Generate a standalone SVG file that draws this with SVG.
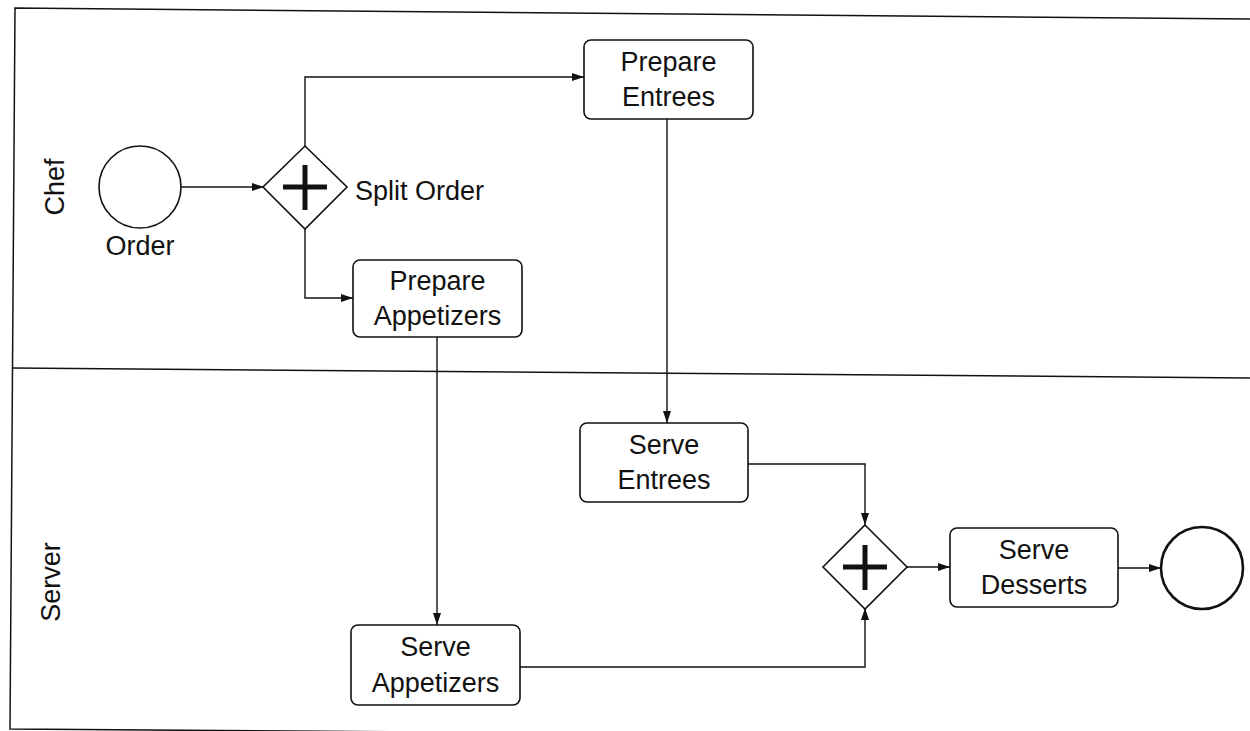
<svg xmlns="http://www.w3.org/2000/svg" width="1250" height="731" viewBox="0 0 1250 731">
<style>
.t{font-family:"Liberation Sans",Arial,sans-serif;font-size:27px;fill:#111}
.box{fill:#fff;stroke:#111;stroke-width:1.6}
.ln{fill:none;stroke:#111;stroke-width:1.5}
.edge{fill:none;stroke:#111;stroke-width:1.4;marker-end:url(#ah)}
.plus{stroke:#111;stroke-width:5;fill:none}
</style>
<defs>
<marker id="ah" viewBox="0 0 12 8" refX="12" refY="4" markerWidth="12" markerHeight="8" markerUnits="userSpaceOnUse" orient="auto">
<path d="M0,0 L12,4 L0,8 Z" fill="#111"/>
</marker>
</defs>
<rect width="1250" height="731" fill="#fff"/>
<g id="pool">
<path class="ln" d="M1250,19 L15,8 L10,729 L1250,738"/>
<path class="ln" d="M13,368 L1250,378"/>
<text class="t" transform="translate(64,187) rotate(-90)" text-anchor="middle">Chef</text>
<text class="t" transform="translate(60,582) rotate(-90)" text-anchor="middle">Server</text>
</g>
<g id="connectors">
<path class="edge" d="M181,187 L264,187"/>
<path class="edge" d="M305,146 L305,77 L584,77"/>
<path class="edge" d="M305,229 L305,298 L353,298"/>
<path class="edge" d="M667,119 L667,423"/>
<path class="edge" d="M437,337 L437,625"/>
<path class="edge" d="M748,464 L865,464 L865,525"/>
<path class="edge" d="M520,667 L865,667 L865,608"/>
<path class="edge" d="M907,567 L950,567"/>
<path class="edge" d="M1118,568 L1161,568"/>
</g>
<g id="order">
<circle cx="140" cy="187" r="41" class="box"/>
<text class="t" x="140" y="255" text-anchor="middle">Order</text>
</g>
<g id="split">
<path class="box" d="M305,146 L347,187 L305,229 L263,187 Z"/>
<path class="plus" d="M283,187 H327 M305,165 V210"/>
<text class="t" x="355" y="200">Split Order</text>
</g>
<g id="prepareEntrees">
<rect class="box" x="584" y="40" width="169" height="79" rx="7"/>
<text class="t" x="668.5" y="71" text-anchor="middle">Prepare</text>
<text class="t" x="668.5" y="106" text-anchor="middle">Entrees</text>
</g>
<g id="prepareAppetizers">
<rect class="box" x="353" y="260" width="169" height="77" rx="7"/>
<text class="t" x="437.5" y="290" text-anchor="middle">Prepare</text>
<text class="t" x="437.5" y="325" text-anchor="middle">Appetizers</text>
</g>
<g id="serveEntrees">
<rect class="box" x="580" y="423" width="168" height="79" rx="7"/>
<text class="t" x="664" y="454" text-anchor="middle">Serve</text>
<text class="t" x="664" y="489" text-anchor="middle">Entrees</text>
</g>
<g id="serveAppetizers">
<rect class="box" x="351" y="625" width="169" height="80" rx="7"/>
<text class="t" x="435.5" y="656" text-anchor="middle">Serve</text>
<text class="t" x="435.5" y="692" text-anchor="middle">Appetizers</text>
</g>
<g id="join">
<path class="box" d="M865,525 L907,567 L865,609 L823,567 Z"/>
<path class="plus" d="M843,567 H887 M865,545 V590"/>
</g>
<g id="serveDesserts">
<rect class="box" x="950" y="528" width="168" height="79" rx="7"/>
<text class="t" x="1034" y="559" text-anchor="middle">Serve</text>
<text class="t" x="1034" y="594" text-anchor="middle">Desserts</text>
</g>
<g id="end">
<circle cx="1202" cy="568" r="41" fill="#fff" stroke="#111" stroke-width="2.6"/>
</g>
</svg>
